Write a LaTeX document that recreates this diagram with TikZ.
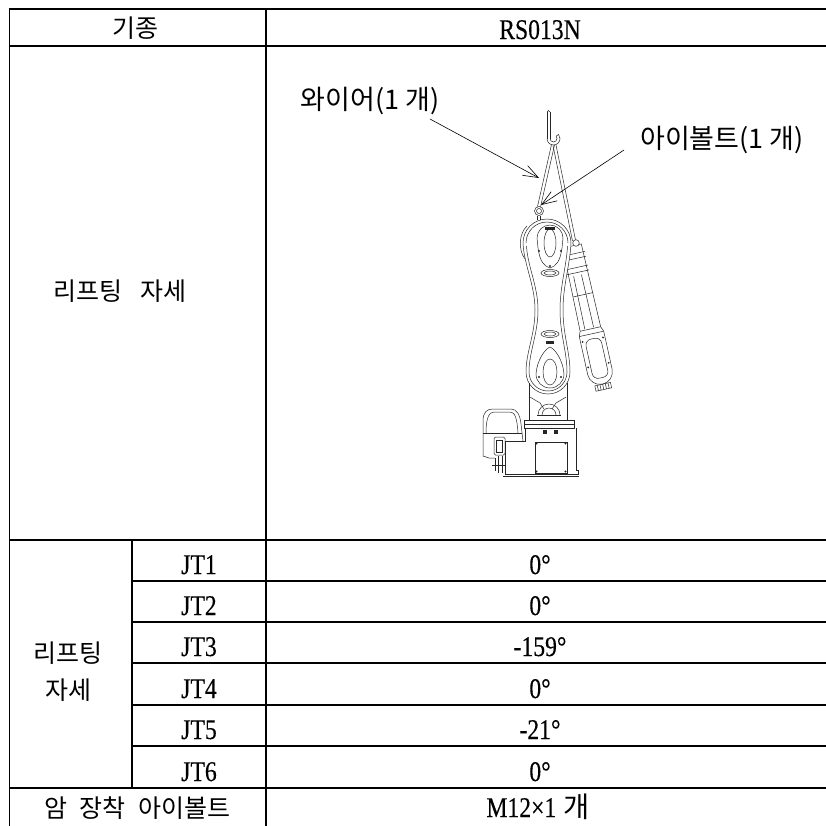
\documentclass[tikz,border=0pt]{standalone}
\usepackage{fontspec}
\setmainfont[FakeStretch=0.83,FakeBold=0.3]{Liberation Serif}
\newfontfamily\kr{Noto Sans CJK KR}
\usetikzlibrary{arrows.meta}
\begin{document}
\begin{tikzpicture}[x=1pt,y=-1pt,
  grid/.style={line width=1.9pt},
  rb/.style={line width=0.5pt, draw=black!85},
  lead/.style={line width=0.6pt, -{Straight Barb[length=15pt,width=11pt,line width=0.6pt]}},
  tnr/.style={inner sep=0pt, font=\fontsize{28.5}{30}\selectfont},
  krt/.style={inner sep=0pt, font=\kr\fontsize{25}{30}\selectfont},
  lbl/.style={inner sep=0pt, font=\kr\fontsize{27}{30}\selectfont},
  bolt/.style={fill=black!85, draw=none}
]
\useasboundingbox (0,0) rectangle (826,825);
\clip (0,0) rectangle (826,825);

% ---------------- table grid ----------------
\draw[grid] (830,9) -- (9.5,9) -- (9.5,830);
\draw[grid] (266,9) -- (266,830);
\draw[grid] (132,540) -- (132,788);
\draw[grid] (9.5,46) -- (830,46);
\draw[grid] (9.5,540) -- (830,540);
\draw[grid] (9.5,788) -- (830,788);
\foreach \yy in {581,622,663,705,746} \draw[grid] (132,\yy) -- (830,\yy);

% ---------------- table texts ----------------
\node[krt] (h1) at (135,28.5) {기종};
\node[tnr, anchor=base] (h2) at (540,39) {RS013N};
\node[krt] (p1) at (120,291) {리프팅\hspace{0.7em}자세};
\node[krt] (p2) at (68,653) {리프팅};
\node[krt] (p3) at (68,690) {자세};
\node[tnr, anchor=base] (j1) at (199,574) {JT1};
\node[tnr, anchor=base] (j2) at (199,615) {JT2};
\node[tnr, anchor=base] (j3) at (199,656) {JT3};
\node[tnr, anchor=base] (j4) at (199,698) {JT4};
\node[tnr, anchor=base] (j5) at (199,739) {JT5};
\node[tnr, anchor=base] (j6) at (199,781) {JT6};
\node[tnr, anchor=base] (v1) at (540,574) {0°};
\node[tnr, anchor=base] (v2) at (540,615) {0°};
\node[tnr, anchor=base] (v3) at (540,656) {-159°};
\node[tnr, anchor=base] (v4) at (540,698) {0°};
\node[tnr, anchor=base] (v5) at (540,739) {-21°};
\node[tnr, anchor=base] (v6) at (540,781) {0°};
\node[krt] (e1) at (137,808) {암\hspace{0.5em}장착\hspace{0.5em}아이볼트};
\node[tnr, anchor=base] (e2) at (538,817) {M12×1\hspace{0.25em}{\kr 개}};

% ---------------- robot: forearm (behind) ----------------
\begin{scope}[shift={(572,246)}, rotate=12.5]
  \draw[rb, fill=white] (-9.5,0) -- (-10.5,85) -- (-12.5,90) -- (-12.5,129)
      arc[start angle=180, end angle=0, radius=12.5] -- (12.5,90) -- (10.5,85) -- (9.5,0) -- cycle;
  \foreach \vv in {8,13,22,27} \draw[rb] (-11,\vv) -- (11.5,\vv);
  \draw[rb] (-10,50) -- (10.5,50);
  \draw[rb] (-5,30) -- (-5.5,84);
  \draw[rb] (3,30) -- (3.5,84);
  \draw[rb] (-10.5,85) -- (10.5,85);
  \draw[rb] (-12.5,90) -- (12.5,90);
  \draw[rb, rounded corners=6pt] (-8,95) rectangle (8,135);
  \fill[bolt] (-10.5,96) circle[radius=1];
  \fill[bolt] (10.5,96) circle[radius=1];
  \fill[bolt] (-10.5,122) circle[radius=1];
  \fill[bolt] (10.5,122) circle[radius=1];
  \draw[rb] (-8,141.5) rectangle (8,147);
  \foreach \uu in {-5.5,-2.75,0,2.75,5.5} \draw[rb] (\uu,141.5) -- (\uu,147);
\end{scope}

% ---------------- robot: upper arm ----------------
\draw[rb, fill=white] (523,243) arc[start angle=180, end angle=360, radius=24]
   .. controls (570,265) and (563,285) .. (563,310)
   .. controls (563,335) and (570,352) .. (570,372)
   arc[start angle=0, end angle=180, radius=22]
   .. controls (526,352) and (535,335) .. (535,310)
   .. controls (535,285) and (524,265) .. (523,243) -- cycle;
\draw[rb] (526,243) arc[start angle=180, end angle=360, radius=21];
\draw[rb] (526.5,246) .. controls (527.5,266) and (538,286) .. (538,310)
   .. controls (538,334) and (529,352) .. (529,372);
\draw[rb] (567.5,246) .. controls (566.5,266) and (560,286) .. (560,310)
   .. controls (560,334) and (567,352) .. (567,372);
\draw[rb] (529,372) arc[start angle=180, end angle=0, radius=19];
% side motor cover
\draw[rb] (527,226) .. controls (519,233) and (518,250) .. (525,259);
% top shield
\draw[rb] (537,238) arc[start angle=180, end angle=360, radius=13]
   -- (562,248) .. controls (560,262) and (556,266) .. (550,268)
   .. controls (544,266) and (540,262) .. (538,248) -- cycle;
\draw[rb] (550,243) ellipse[x radius=6, y radius=14];
\fill[bolt] (545,227) rectangle (555,230);
\fill[bolt] (539,251) circle[radius=1.2];
\fill[bolt] (561,251) circle[radius=1.2];
\fill[bolt] (550,266) circle[radius=1.2];
\draw[rb] (550,273) ellipse[x radius=9, y radius=3.5];
\draw[rb] (550,273) ellipse[x radius=6, y radius=2];
% lower shield
\draw[rb] (550,334) ellipse[x radius=9, y radius=3.5];
\draw[rb] (550,334) ellipse[x radius=6, y radius=2];
\fill[bolt] (546,341) rectangle (554,344);
\draw[rb] (550,347) .. controls (545,349) and (537,360) .. (536,374)
   arc[start angle=180, end angle=0, radius=14]
   .. controls (563,360) and (555,349) .. (550,347) -- cycle;
\draw[rb] (550,372) ellipse[x radius=7, y radius=13];
\fill[bolt] (539,377) circle[radius=1.2];
\fill[bolt] (561,377) circle[radius=1.2];

% ---------------- robot: column and base ----------------
\draw[rb] (529,383) -- (529,420);
\draw[rb] (567,383) -- (567,420);
\draw[rb] (530,397) -- (540,403) -- (544,409);
\draw[rb] (566,397) -- (556,403) -- (552,409);
\draw[rb] (538,415) arc[start angle=180, end angle=360, radius=11];
\draw[rb] (542,415) arc[start angle=180, end angle=360, radius=7];
\draw[rb] (537,415) -- (561,415);
\draw[rb] (524,420) rectangle (574,428);
\draw[rb] (524,424) -- (574,424);
\draw[rb] (525,428) -- (525,441) -- (505,441) -- (505,474) -- (578,474) -- (578,470) -- (576,470) -- (576,428);
\draw[rb] (503,476) -- (579,476);
\draw[rb] (535,442) rectangle (567,473);
\fill[bolt] (543,430) rectangle (547,434);
\fill[bolt] (554,430) rectangle (558,434);
\foreach \pp in {(536.5,443.5),(565.5,443.5),(536.5,471.5),(565.5,471.5)} \fill[bolt] \pp circle[radius=1.1];
% motor housing (left)
\draw[rb] (483,456) -- (483,421) .. controls (483,412) and (487,409) .. (493,409)
   -- (511,409) .. controls (517,409) and (520,415) .. (521,424) -- (523,441);
\draw[rb] (486,433) .. controls (486,418) and (489,412) .. (494,412) -- (510,412)
   .. controls (515,412) and (517,418) .. (518,433);
\draw[rb] (483,433) -- (522,433);
\draw[rb] (483,456) -- (489,458) -- (495,458);
\draw[rb, rounded corners=1.5pt] (494,437) rectangle (505,455);
\draw[rb] (496.5,440) rectangle (502.5,452);
\draw[rb] (495,458) -- (495,471) (498,456) -- (498,473) (502,456) -- (502,473) (492,465) -- (505,465);

% ---------------- hook, wire, eyebolt ----------------
\draw[rb] (547,112) -- (547,138.5);
\draw[rb] (550,112) -- (550,138.5);
\draw[rb] (547,112) arc[start angle=180, end angle=360, radius=1.5];
\draw[rb] (547,138.5) arc[start angle=180, end angle=-40, radius=6.5];
\draw[rb] (550,138.5) arc[start angle=180, end angle=-40, radius=3.5];
\draw[rb] (558.5,134.3) -- (556.2,136.2);
\draw[rb] (551.5,144.5) -- (537.5,206.5);
\draw[rb] (554.5,145) -- (540.5,207);
\draw[rb] (553,145.5) -- (572.5,241);
\draw[rb] (556,145) -- (575.5,240);
\draw[rb, fill=white] (539,211) circle[radius=4.5];
\draw[rb] (539,211) circle[radius=2.5];
\draw[rb] (537.5,215.5) -- (537.5,219.5) (540.5,215.5) -- (540.5,219.5);
\draw[rb, fill=white] (576,243) circle[radius=3.3];

% ---------------- labels and leaders ----------------
\node[lbl] (wl) at (370,101) {와이어(1 개)};
\node[lbl] (el) at (722,140) {아이볼트(1 개)};
\coordinate (ws) at (430,119);
\coordinate (wt) at (539,178);
\coordinate (es) at (624,150);
\coordinate (et) at (541,205);
\draw[lead] (ws) -- (wt);
\draw[lead] (es) -- (et);
\end{tikzpicture}
\end{document}
